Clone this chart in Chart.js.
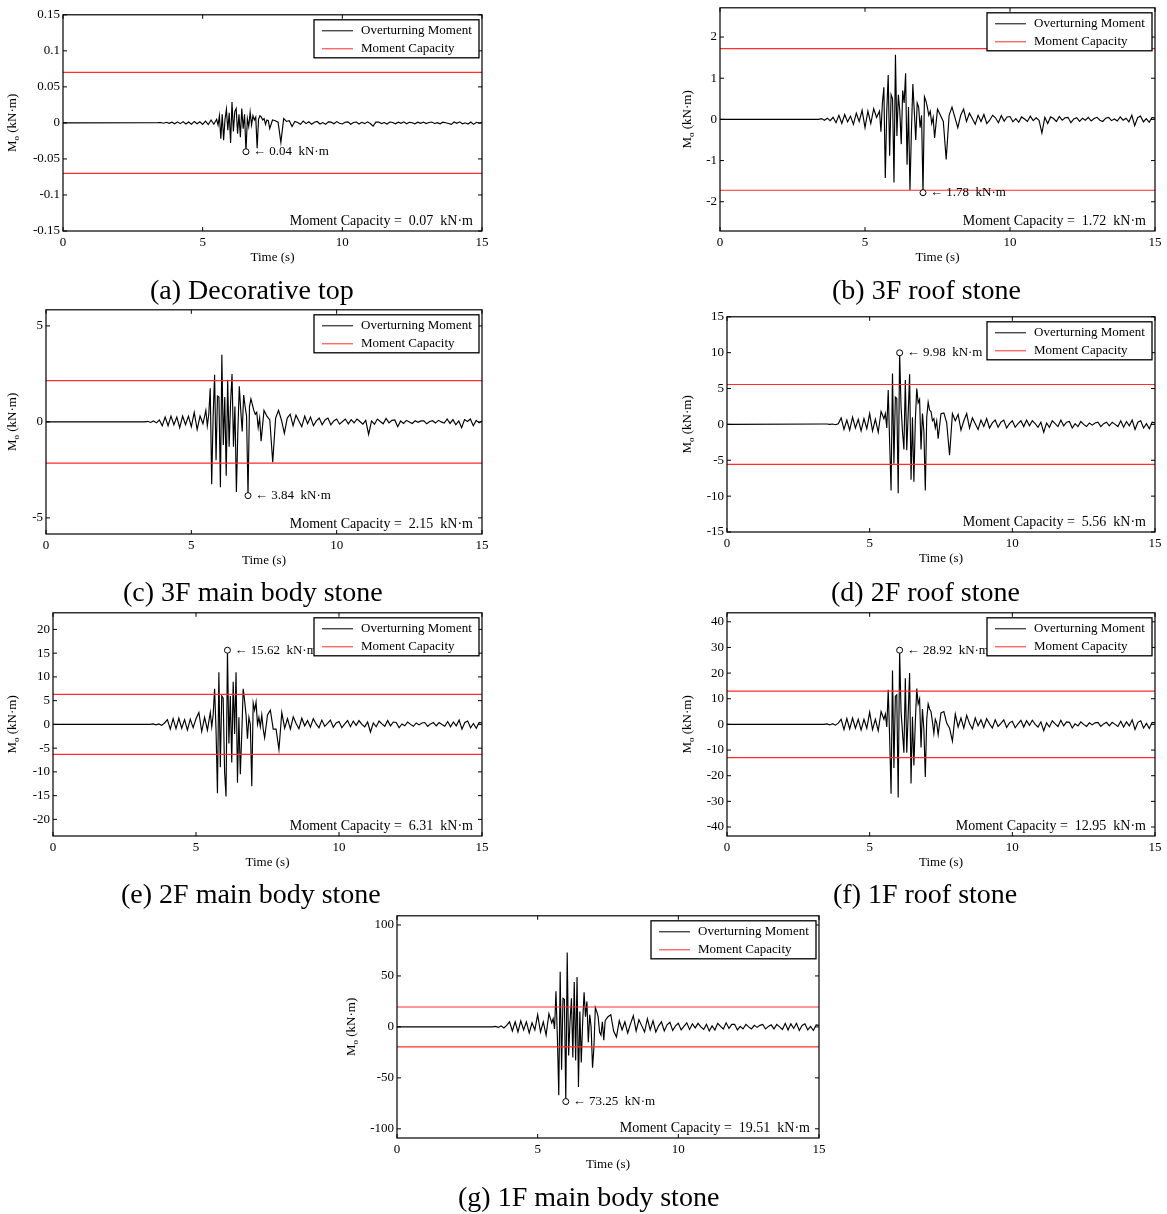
<!DOCTYPE html>
<html>
<head>
<meta charset="utf-8">
<script src="https://cdn.jsdelivr.net/npm/chart.js@4.4.1/dist/chart.umd.min.js"></script>
<style>
  body { margin: 0; background: #fff; width: 1167px; height: 1214px; position: relative; overflow: hidden; }
  canvas { position: absolute; }
  .caption { position: absolute; white-space: pre; font-family: "Liberation Serif", "Times New Roman", serif;
             font-size: 28px; line-height: 28px; color: #000; }
</style>
</head>
<body>
<script>
// time axis shared by all seven records (s)
const timeSec = [
  0, 3.4,
  3.5, 3.6, 3.7, 3.8, 3.9, 4.0, 4.1, 4.2, 4.3, 4.4, 4.5,
  4.6, 4.7, 4.8, 4.9, 5.0, 5.1, 5.2, 5.3, 5.4, 5.5,
  5.55, 5.6, 5.65, 5.7, 5.75, 5.8, 5.85, 5.9, 5.95, 6.0,
  6.05, 6.1, 6.15, 6.2, 6.25, 6.3, 6.35, 6.4, 6.45, 6.5,
  6.55, 6.6, 6.65, 6.7, 6.75, 6.8, 6.85, 6.9, 6.95, 7.0,
  7.05, 7.1, 7.15, 7.2, 7.25, 7.3, 7.35, 7.4,
  7.5, 7.6, 7.7, 7.8, 7.9,
  8.0, 8.1, 8.2, 8.3, 8.4, 8.5, 8.6, 8.7, 8.8, 8.9,
  9.0, 9.1, 9.2, 9.3, 9.4, 9.5, 9.6, 9.7, 9.8, 9.9,
  10.0, 10.1, 10.2, 10.3, 10.4, 10.5, 10.6, 10.7, 10.8, 10.9,
  11.0, 11.1, 11.2, 11.3, 11.4, 11.5, 11.6, 11.7, 11.8, 11.9,
  12.0, 12.1, 12.2, 12.3, 12.4, 12.5, 12.6, 12.7, 12.8, 12.9,
  13.0, 13.1, 13.2, 13.3, 13.4, 13.5, 13.6, 13.7, 13.8, 13.9,
  14.0, 14.1, 14.2, 14.3, 14.4, 14.5, 14.6, 14.7, 14.8, 14.9,
  15.0
];

// overturning moment (kN·m), one value per entry of timeSec
const momentA = [
  0, 0.0004,
  0.0006, -0.0005, 0.0008, -0.0006, 0.001, -0.0012, 0.0015, -0.001, 0.0018, -0.0014, 0.0012,
  -0.0018, 0.002, -0.0012, 0.0015, -0.002, 0.0025, -0.0022, 0.004, -0.0018, 0.005,
  -0.003, 0.01, -0.022, 0.012, -0.024, 0.005, 0.019, -0.01, 0.014, -0.028,
  0.029, -0.012, 0.016, 0.02, -0.015, 0.012, -0.02, 0.02, -0.008, 0.012,
  -0.04, 0.006, -0.005, 0.015, -0.003, 0.01, 0.004, 0.008, -0.035, 0.005,
  0.01, 0.008, 0.004, 0.006, -0.002, 0.004, 0.003, -0.008,
  0.004, 0.003, 0.001, -0.027, 0.006,
  0.002, 0.003, -0.005, 0.002, 0.0005, -0.002, 0.0025, -0.001, 0.0015, -0.0018,
  0.001, 0.002, -0.0015, 0.0005, -0.002, 0.0015, 0.001, -0.0012, 0.0018, -0.0005,
  -0.0015, 0.001, 0.0015, -0.0018, 0.0005, 0.0012, -0.0015, 0.0008, -0.001, 0.0015,
  -0.0008, -0.0045, 0.001, 0.0012, -0.001, 0.0005, -0.0015, 0.0012, 0.0005, -0.0012,
  0.001, -0.0005, 0.0015, -0.0012, 0.0008, 0.0002, -0.0012, 0.001, -0.0006, 0.0012,
  -0.001, 0.0006, 0.0012, -0.0008, 0.0004, -0.0012, 0.001, 0.0002, -0.0008, -0.002,
  0.0012, -0.0006, 0.0015, -0.0012, 0.0002, -0.0015, 0.0012, -0.002, 0.0008, -0.0004,
  0.0005
];
const momentB = [
  0, 0,
  0.02, -0.02, 0.03, -0.03, 0.05, -0.08, 0.1, -0.1, 0.12, -0.06, 0.08,
  -0.12, 0.15, -0.05, 0.22, -0.2, 0.2, -0.1, 0.26, 0.05, 0.2,
  -0.3, 0.4, 0.78, -1.42, 0.2, 1.08, -0.88, 0.6, 0.5, -1.53,
  1.57, -0.4, 0.6, 0.2, -0.6, 0.7, 0.4, 1.12, -1.1, 0.3,
  -1.72, -0.3, 0.86, 0.2, -0.5, 0.4, 0.3, -0.2, 0.1, -1.78,
  0.55, 0.45, 0.3, 0.1, 0.2, -0.1, 0.05, -0.45,
  0.25, 0.1, -0.05, -0.97, 0.1,
  0.3, 0.05, -0.2, 0.1, 0.25, -0.05, 0.15, 0.02, -0.12, 0.1,
  -0.05, 0.12, -0.1, -0.02, 0.1, 0.04, -0.08, 0.09, -0.04, 0.06,
  0.07, -0.06, 0.02, -0.07, 0.06, 0.01, -0.05, 0.08, -0.03, 0.04,
  -0.02, -0.33, 0.05, -0.1, 0.06, 0.02, -0.05, 0.07, -0.02, 0.04,
  0.05, -0.08, 0.01, 0.04, -0.05, 0.03, -0.02, 0.05, -0.04, 0.02,
  0.05, -0.02, -0.05, 0.03, 0.05, -0.03, 0.01, -0.04, 0.06, -0.02,
  0.03, -0.06, 0.1, -0.15, 0.04, 0.08, -0.06, 0.02, -0.07, 0.05,
  0.03
];
const momentC = [
  0, 0,
  0.03, -0.03, 0.05, -0.05, 0.1, -0.2, 0.25, -0.2, 0.3, -0.15, 0.25,
  -0.3, 0.3, -0.15, 0.3, -0.25, 0.5, -0.4, 0.3, -0.1, 0.6,
  -0.2, 0.4, 1.75, -3.25, 0.3, 2.45, -2.0, 1.35, 1.3, -3.4,
  3.5, -1.2, 1.3, -2.8, 2.2, -1.3, 1.0, 2.5, -1.3, 0.8,
  -3.65, -0.5, 1.85, 0.6, -0.5, 1.4, 0.8, 0.3, -3.84, 0.8,
  1.2, 0.9, 0.6, 0.4, 0.5, -0.3, 0.2, -1.0,
  0.6, 0.3, 0.1, -2.1, 0.2,
  0.6, 0.1, -0.6, 0.2, 0.4, -0.2, 0.35, 0.05, -0.25, 0.3,
  -0.1, 0.25, -0.2, 0.05, 0.2, -0.15, 0.1, 0.2, -0.15, 0.05,
  0.15, -0.12, 0.02, 0.15, -0.1, 0.12, -0.05, 0.15, 0.02, -0.12,
  0.08, -0.65, 0.05, -0.12, 0.15, 0.02, -0.1, 0.18, -0.05, 0.08,
  0.1, -0.25, 0.05, -0.08, 0.08, 0.0, -0.08, 0.06, -0.02, 0.05,
  0.06, -0.1, 0.02, 0.06, -0.06, 0.08, 0.0, -0.06, 0.15, -0.08,
  0.12, -0.15, 0.05, -0.3, 0.12, 0.02, 0.15, -0.2, 0.08, -0.05,
  0.05
];
const momentD = [
  0, 0.05,
  0.05, 0, 0.05, -0.05, 0.1, 0.9, -0.7, 0.6, -0.8, 1.0, -0.5,
  0.7, -0.9, 0.8, -0.6, 1.5, -0.9, 0.7, -1.1, 1.8, 0.8,
  1.5, -0.5, 4.8, -2.5, -9.2, 7.1, -5.5, 3.8, 3.6, -9.6,
  9.98, 2.5, -1.0, -3.5, 6.2, -3.6, 1.5, 7.0, -7.7, 1.0,
  -8.0, 0.5, 5.0, 3.0, 3.5, -3.5, 1.5, -1.0, -9.2, 1.0,
  3.1, 2.0, 1.8, 0.5, 0.8, -0.5, 0.5, -2.0,
  1.5, 1.6, 0.2, -4.3, 1.5,
  0.5, 1.4, -0.8, 0.5, 1.5, -0.5, 0.9, 0.1, -0.7, 0.6,
  -0.3, 0.8, -0.5, 0.2, 0.6, -0.4, 0.3, 0.6, -0.5, 0.1,
  0.5, -0.4, 0.1, 0.5, -0.3, 0.6, -0.2, 0.5, 0.1, -0.4,
  0.3, -1.1, 0.2, -0.4, 0.5, 0.1, -0.3, 0.6, -0.2, 0.3,
  0.4, -0.5, 0.1, -0.3, 0.4, 0.0, -0.3, 0.2, -0.1, 0.2,
  0.3, -0.3, 0.1, 0.3, -0.2, 0.3, 0.0, -0.3, 0.5, -0.4,
  0.4, -0.2, 0.6, -0.7, 0.3, 0.5, -0.5, 0.1, -0.6, 0.3,
  0.2
];
const momentE = [
  0, 0,
  0.1, -0.1, 0.1, -0.2, 0.3, 1.0, -1.0, 1.2, -0.9, 1.3, -0.8,
  1.0, -1.2, 1.1, -0.7, 1.2, 2.5, -1.5, 1.5, -1.2, 2.5,
  -0.5, 2.0, 7.5, -1.0, -14.5, 11.0, -9.0, 6.0, 5.5, -10.0,
  -15.2, 15.62, -4.0, 6.0, -8.0, 9.0, -2.0, 11.0, -12.3, 1.5,
  -10.5, -2.0, 7.5, 5.0, 2.0, -3.0, 1.5, 0, -13.0, 4.5,
  3.0, 4.7, 0, 1.5, -0.5, 2.0, -1.0, -2.8,
  2.0, 3.0, -1.0, -1.0, -5.3,
  2.5, -0.8, 1.2, -1.0, 1.6, 0.2, -0.9, 1.3, -0.3, 0.8,
  -0.6, 1.2, 0.1, -0.7, 0.9, -0.4, 0.2, 0.9, -0.6, 0.3,
  0.6, -0.7, 0.1, 0.8, -0.5, 0.7, -0.2, 0.8, 0.0, -0.5,
  0.5, -1.6, 0.3, -0.5, 0.7, 0.1, -0.4, 0.8, -0.3, 0.5,
  0.4, -0.7, 0.1, -0.3, 0.5, 0.0, -0.4, 0.3, -0.1, 0.3,
  0.4, -0.4, 0.1, 0.4, -0.3, 0.4, 0.0, -0.4, 0.6, -0.5,
  0.5, -0.3, 0.9, -1.0, 0.4, 0.7, -0.7, 0.2, -0.8, 0.4,
  0.3
];
const momentF = [
  0, 0,
  0.2, -0.2, 0.3, -0.3, 0.5, 2.0, -2.0, 2.3, -1.8, 2.5, -1.5,
  2.0, -2.2, 2.0, -1.5, 4.8, -2.0, 2.0, -2.5, 5.0, 2.0,
  4.0, -1.0, 13.5, -5.0, -27.0, 21.0, -17.0, 11.0, 11.5, -28.5,
  28.92, 5.0, -3.0, -11.0, 18.0, -11.0, 4.0, 20.0, -23.0, 3.0,
  -16.0, 1.0, 14.0, 8.0, 10.0, -9.0, 6.0, -2.0, -20.5, 2.0,
  8.0, 6.0, 5.0, 1.0, -3.5, 2.0, 0.5, -4.0,
  4.5, 5.0, 0.5, -1.5, -6.5,
  4.0, -1.0, 2.5, -1.5, 3.5, 0.3, -1.8, 2.5, -0.5, 1.8,
  -1.2, 2.2, 0.2, -1.4, 1.8, -0.8, 0.4, 1.8, -1.2, 0.6,
  1.2, -1.3, 0.2, 1.6, -1.0, 1.4, -0.4, 1.6, 0.0, -1.0,
  1.0, -2.5, 0.6, -1.0, 1.4, 0.2, -0.8, 1.6, -0.6, 1.0,
  0.8, -1.4, 0.2, -0.6, 1.0, 0.0, -0.8, 0.6, -0.2, 0.6,
  0.8, -0.8, 0.2, 0.8, -0.6, 0.8, 0.0, -0.8, 1.2, -1.0,
  1.0, -0.6, 1.8, -2.0, 0.8, 1.4, -1.4, 0.4, -1.6, 0.8,
  0.6
];
const momentG = [
  0, 0,
  0.5, -0.5, 1.0, -1.0, 1.5, 5.0, -4.0, 5.0, -5.0, 6.0, -3.0,
  5.0, -6.0, 4.0, -3.0, 12.0, -5.0, 5.0, -8.0, 13.0, 4.0,
  8.0, -2.0, 35.0, -10.0, -67.0, 54.0, -42.0, 28.0, 27.0, -73.25,
  73.0, -28.0, 5.0, 28.0, -30.0, 44.0, -33.0, 49.0, -59.0, 15.0,
  -35.0, 5.0, 34.0, 10.0, 25.0, -15.0, 12.0, 0, -40.0, -20.0,
  19.0, 15.0, 10.0, -5.0, -8.0, 5.0, -13.0, 6.0,
  10.0, 12.0, -4.0, -10.0, 6.0,
  -3.0, 5.0, -6.0, 3.0, 11.0, -4.0, 7.0, 1.0, -5.0, 8.0,
  -3.0, 6.0, -5.0, 1.0, 5.0, -4.0, 2.0, 4.5, -3.5, 1.0,
  3.5, -3.0, 0.5, 4.0, -2.5, 3.0, -1.0, 3.5, 0.0, -2.5,
  2.5, -4.0, 1.0, -3.0, 3.5, 0.5, -2.0, 4.0, -1.5, 2.5,
  2.5, -3.0, 0.5, -2.0, 2.5, 0.0, -2.0, 1.5, -0.5, 1.5,
  2.5, -2.0, 0.5, 2.0, -2.0, 2.5, 0.0, -2.5, 3.5, -3.0,
  3.0, -1.5, 3.5, -3.5, 1.5, 3.0, -3.0, 0.5, -3.5, 2.0,
  1.5
];

const captions = ['(a) Decorative top', '(b) 3F roof stone', '(c) 3F main body stone', '(d) 2F roof stone',
                  '(e) 2F main body stone', '(f) 1F roof stone', '(g) 1F main body stone'];
const moments = [momentA, momentB, momentC, momentD, momentE, momentF, momentG];
const capacity = [0.07, 1.72, 2.15, 5.56, 6.31, 12.95, 19.51];
const peakTime = [6.55, 7.0, 6.95, 6.05, 6.1, 6.05, 6.0];
const peakValue = [-0.04, -1.78, -3.84, 9.98, 15.62, 28.92, -73.25];
const yLimit = [0.15, 2.71, 5.84, 15, 23.5, 43.5, 109];
const yTickValues = [
  [-0.15, -0.1, -0.05, 0, 0.05, 0.1, 0.15],
  [-2, -1, 0, 1, 2],
  [-5, 0, 5],
  [-15, -10, -5, 0, 5, 10, 15],
  [-20, -15, -10, -5, 0, 5, 10, 15, 20],
  [-40, -30, -20, -10, 0, 10, 20, 30, 40],
  [-100, -50, 0, 50, 100]
];
const yTickLabels = [
  ['-0.15', '-0.1', '-0.05', '0', '0.05', '0.1', '0.15'],
  ['-2', '-1', '0', '1', '2'],
  ['-5', '0', '5'],
  ['-15', '-10', '-5', '0', '5', '10', '15'],
  ['-20', '-15', '-10', '-5', '0', '5', '10', '15', '20'],
  ['-40', '-30', '-20', '-10', '0', '10', '20', '30', '40'],
  ['-100', '-50', '0', '50', '100']
];
const xTickValues = [0, 5, 10, 15];
const xTickLabels = ['0', '5', '10', '15'];

// page placement of each plot box (px) and of its caption
const layout = [
  { L: 63,  R: 482,  T: 14,  B: 231,  gap: 50, capL: 150, capY: 299 },
  { L: 720, R: 1155, T: 7,   B: 231,  gap: 32, capL: 832, capY: 299 },
  { L: 46,  R: 482,  T: 309, B: 534,  gap: 33, capL: 123, capY: 601 },
  { L: 727, R: 1155, T: 316, B: 532,  gap: 39, capL: 831, capY: 601 },
  { L: 53,  R: 482,  T: 612, B: 836,  gap: 40, capL: 121, capY: 903 },
  { L: 727, R: 1155, T: 612, B: 836,  gap: 39, capL: 833, capY: 903 },
  { L: 397, R: 819,  T: 915, B: 1138, gap: 45, capL: 458, capY: 1206 }
];

const SERIF = '"Liberation Serif", "Times New Roman", serif';
const RED = 'rgb(255, 45, 45)';
const Y_W = 62, PAD_T = 10, PAD_R = 14, X_H = 45;

Chart.defaults.font.family = SERIF;
Chart.defaults.color = '#000';

// MATLAB-like box, inward ticks, legend and annotations
const framePlugin = {
  id: 'matlabFrame',
  afterDraw(chart, args, opts) {
    const { ctx, chartArea: a, scales: { x, y } } = chart;
    ctx.save();
    ctx.strokeStyle = '#000';
    ctx.lineWidth = 1.2;
    ctx.strokeRect(a.left, a.top, a.right - a.left, a.bottom - a.top);

    ctx.lineWidth = 1;
    ctx.beginPath();
    xTickValues.forEach(v => {
      const px = x.getPixelForValue(v);
      ctx.moveTo(px, a.bottom); ctx.lineTo(px, a.bottom - 4);
      ctx.moveTo(px, a.top); ctx.lineTo(px, a.top + 4);
    });
    opts.yTicks.forEach(v => {
      const py = y.getPixelForValue(v);
      ctx.moveTo(a.left, py); ctx.lineTo(a.left + 4, py);
      ctx.moveTo(a.right, py); ctx.lineTo(a.right - 4, py);
    });
    ctx.stroke();

    // peak annotation (drawn before the legend, which covers it)
    ctx.fillStyle = '#000';
    ctx.font = '13px ' + SERIF;
    ctx.textAlign = 'left';
    ctx.textBaseline = 'middle';
    ctx.fillText(opts.peakLabel, x.getPixelForValue(opts.peakT) + 7, y.getPixelForValue(opts.peakV));

    // legend box
    const lw = 165, lh = 38, lx = a.right - 3 - lw, ly = a.top + 5;
    ctx.fillStyle = '#fff';
    ctx.fillRect(lx, ly, lw, lh);
    ctx.lineWidth = 1.3;
    ctx.strokeStyle = '#000';
    ctx.strokeRect(lx, ly, lw, lh);
    [['#000', 'Overturning Moment', 11], [RED, 'Moment Capacity', 29]].forEach(([c, t, dy]) => {
      ctx.strokeStyle = c;
      ctx.lineWidth = 1;
      ctx.beginPath();
      ctx.moveTo(lx + 8, ly + dy);
      ctx.lineTo(lx + 39, ly + dy);
      ctx.stroke();
      ctx.fillStyle = '#000';
      ctx.fillText(t, lx + 47, ly + dy);
    });

    // capacity note
    ctx.font = '14px ' + SERIF;
    ctx.textAlign = 'right';
    ctx.fillText(opts.capText, a.right - 9, a.bottom - 10);

    // axis titles
    ctx.font = '13px ' + SERIF;
    ctx.textAlign = 'center';
    ctx.fillText('Time (s)', (a.left + a.right) / 2, a.bottom + 27);

    ctx.translate(a.left - opts.gap, (a.top + a.bottom) / 2);
    ctx.rotate(-Math.PI / 2);
    ctx.textAlign = 'left';
    const main = '13px ' + SERIF, sub = '9px ' + SERIF;
    ctx.font = main; const wM = ctx.measureText('M').width;
    const wRest = ctx.measureText(' (kN·m)').width;
    ctx.font = sub; const wO = ctx.measureText('o').width;
    let cx = -(wM + wO + wRest) / 2;
    ctx.font = main; ctx.fillText('M', cx, 0); cx += wM;
    ctx.font = sub; ctx.fillText('o', cx, 4); cx += wO;
    ctx.font = main; ctx.fillText(' (kN·m)', cx, 0);
    ctx.restore();
  }
};

moments.forEach((vals, i) => {
  if (vals.length !== timeSec.length) console.warn('length mismatch', captions[i], vals.length);
  const box = layout[i];
  const canvas = document.createElement('canvas');
  canvas.width = (box.R - box.L) + Y_W + PAD_R;
  canvas.height = (box.B - box.T) + PAD_T + X_H;
  canvas.style.left = (box.L - Y_W) + 'px';
  canvas.style.top = (box.T - PAD_T) + 'px';
  document.body.appendChild(canvas);

  const cap = document.createElement('div');
  cap.className = 'caption';
  cap.textContent = captions[i];
  cap.style.left = box.capL + 'px';
  cap.style.top = (box.capY - 23.5) + 'px';
  document.body.appendChild(cap);

  const capLine = v => [{ x: 0, y: v }, { x: 15, y: v }];
  const yT = yTickValues[i], yL = yTickLabels[i];

  new Chart(canvas, {
    type: 'line',
    data: {
      datasets: [
        { data: capLine(capacity[i]), borderColor: RED, borderWidth: 1.2, pointRadius: 0, order: 1 },
        { data: capLine(-capacity[i]), borderColor: RED, borderWidth: 1.2, pointRadius: 0, order: 1 },
        { data: timeSec.map((t, k) => ({ x: t, y: vals[k] })), borderColor: '#000', borderWidth: 1.15,
          pointRadius: 0, tension: 0, order: 2 },
        { data: [{ x: peakTime[i], y: peakValue[i] }], showLine: false, pointRadius: 3, pointStyle: 'circle',
          pointBorderColor: '#000', pointBackgroundColor: '#fff', pointBorderWidth: 1, order: 0 }
      ]
    },
    options: {
      responsive: false,
      maintainAspectRatio: false,
      devicePixelRatio: 1,
      animation: false,
      events: [],
      layout: { padding: { left: 0, right: PAD_R, top: PAD_T, bottom: 0 } },
      plugins: {
        legend: { display: false },
        tooltip: { enabled: false },
        matlabFrame: {
          yTicks: yT,
          peakT: peakTime[i],
          peakV: peakValue[i],
          peakLabel: '← ' + Math.abs(peakValue[i]).toFixed(2) + '  kN·m',
          capText: 'Moment Capacity =  ' + capacity[i].toFixed(2) + '  kN·m',
          gap: box.gap
        }
      },
      scales: {
        x: {
          type: 'linear', min: 0, max: 15,
          afterBuildTicks: s => { s.ticks = xTickValues.map(v => ({ value: v })); },
          afterFit: s => { s.height = X_H; },
          grid: { display: false, drawTicks: false },
          border: { display: false },
          ticks: { padding: 4, maxRotation: 0, font: { size: 13 }, callback: (v, k) => xTickLabels[k] }
        },
        y: {
          type: 'linear', min: -yLimit[i], max: yLimit[i],
          afterBuildTicks: s => { s.ticks = yT.map(v => ({ value: v })); },
          afterFit: s => { s.width = Y_W; },
          grid: { display: false, drawTicks: false },
          border: { display: false },
          ticks: { padding: 3, font: { size: 13 }, callback: (v, k) => yL[k] }
        }
      }
    },
    plugins: [framePlugin]
  });
});
</script>
</body>
</html>
